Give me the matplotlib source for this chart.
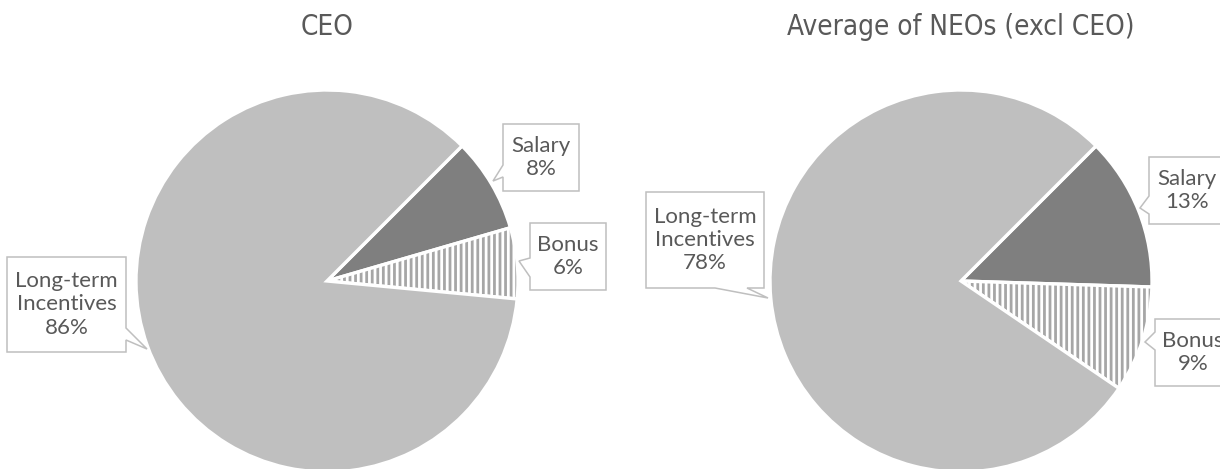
import matplotlib
matplotlib.use("Agg")
import matplotlib.pyplot as plt
from matplotlib.patches import Polygon

# data
categories = ["Salary", "Bonus", "Long-term\nIncentives"]
ceo_share = [8, 6, 86]
neo_share = [13, 9, 78]
titles = ["CEO", "Average of NEOs (excl CEO)"]

W, H = 1220, 469
plt.rcParams["hatch.linewidth"] = 2.0

fig = plt.figure(figsize=(W / 100, H / 100), dpi=100)
ax = fig.add_axes([0, 0, 1, 1])

colors = ["#7f7f7f", "#a6a6a6", "#bfbfbf"]
hatches = [None, "|||", None]

# pie centres in pixels (top-left origin)
centres = [(327, 281), (961, 281)]
radius = 191

# callouts: box (x0, y0, x1, y1), side of pointer, base (a, b), tip
callouts = [
    [((503, 124, 579, 191), "left", (165, 177), (493, 181)),
     ((530, 223, 606, 290), "left", (258, 277), (519, 261)),
     ((7, 257, 126, 352), "right", (328, 340), (147, 349))],
    [((1149, 157, 1225, 224), "left", (196, 214), (1140, 208)),
     ((1155, 319, 1231, 386), "left", (332, 350), (1145, 342)),
     ((646, 192, 764, 288), "bottom", (715, 747), (768, 298))],
]


def callout(ax, box, side, base, tip, text):
    x0, y0, x1, y1 = box
    a, b = base
    if side == "left":
        pts = [(x0, y0), (x1, y0), (x1, y1), (x0, y1), (x0, b), tip, (x0, a)]
    elif side == "right":
        pts = [(x0, y0), (x1, y0), (x1, a), tip, (x1, b), (x1, y1), (x0, y1)]
    else:
        pts = [(x0, y0), (x1, y0), (x1, y1), (b, y1), tip, (a, y1), (x0, y1)]
    pts = [(px, H - py) for px, py in pts]
    ax.add_patch(Polygon(pts, closed=True, facecolor="white",
                         edgecolor="#bfbfbf", linewidth=1.1, zorder=5))
    ax.text((x0 + x1) / 2, H - (y0 + y1) / 2, text, ha="center", va="center",
            fontsize=16, color="#595959", family=["Lato", "DejaVu Sans"],
            linespacing=1.2, zorder=6)


for i, share in enumerate([ceo_share, neo_share]):
    cx, cy = centres[i]
    wedges, _ = ax.pie(share, center=(cx, H - cy), radius=radius,
                       startangle=45, counterclock=False, colors=colors,
                       wedgeprops=dict(edgecolor="white", linewidth=2.4))
    for w, h in zip(wedges, hatches):
        if h:
            w.set_hatch(h)
    for cat, v, (box, side, base, tip) in zip(categories, share, callouts[i]):
        callout(ax, box, side, base, tip, f"{cat}\n{v}%")
    ax.text(cx, H - 27, titles[i], ha="center", va="center", fontsize=20,
            color="#595959", family="DejaVu Sans", stretch="condensed")

ax.set_xlim(0, W)
ax.set_ylim(0, H)
ax.set_aspect("equal")
ax.axis("off")

fig.savefig("out.png", dpi=100)
